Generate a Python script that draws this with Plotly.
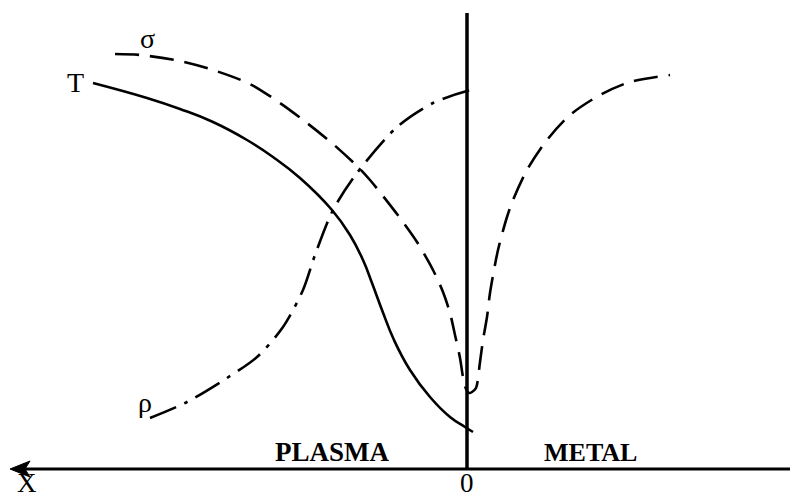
import plotly.graph_objects as go

# Coordinates: x measured from the plasma/metal interface (0), y above the X axis
T_x = [-374, -320, -287, -254, -220, -194, -167, -135, -117, -104, -95, -85, -73, -57, -37, -17, -2, 6]
T_y = [386, 371, 360, 347, 329, 312, 291, 259, 234, 209, 186, 159, 129, 99, 72, 52, 42, 37]

sigma_x = [-352, -327, -287, -257, -217, -187, -160, -134, -109, -97, -84, -67, -50, -34, -24,
           -17, -12, -7, -4, -1, 2, 5, 9, 13, 16, 20, 23, 31, 40, 46, 60, 80, 103, 133, 163, 203]
sigma_y = [415, 414, 408, 400, 385, 366, 346, 325, 302, 289, 273, 251, 227, 199, 177,
           156, 134, 111, 92, 80, 76, 77, 81, 107, 129, 152, 176, 219, 252, 269, 299, 329, 354, 374, 387, 394]

rho_x = [-317, -280, -240, -210, -184, -164, -152, -134, -110, -70, -34, 0, 11]
rho_y = [51, 67, 91, 112, 142, 179, 214, 259, 296, 342, 366, 378, 380]

interface_top = 456
axis_left = -457
axis_right = 323

labels = [
    ("σ", -320, 431, 28, "middle"),
    ("T", -392, 387, 28, "middle"),
    ("ρ", -322, 67, 28, "middle"),
    ("<b>PLASMA</b>", -135, 17, 27, "middle"),
    ("<b>METAL</b>", 123, 17, 26, "middle"),
    ("0", 0, -30, 27, "bottom"),
    ("X", -440, -30, 27, "bottom"),
]

fig = go.Figure()

# X axis line (arrow to the left)
fig.add_trace(go.Scatter(x=[axis_left + 8, axis_right], y=[0, 0], mode="lines",
                         line=dict(color="black", width=3), hoverinfo="skip"))
# interface vertical line
fig.add_trace(go.Scatter(x=[0, 0], y=[0, interface_top], mode="lines",
                         line=dict(color="black", width=3.5), hoverinfo="skip"))

fig.add_trace(go.Scatter(x=T_x, y=T_y, mode="lines", line_shape="spline",
                         line=dict(color="black", width=2.6, smoothing=1.3), name="T"))
fig.add_trace(go.Scatter(x=sigma_x, y=sigma_y, mode="lines", line_shape="spline",
                         line=dict(color="black", width=2.6, dash="24px,11px", smoothing=0.8), name="σ"))
fig.add_trace(go.Scatter(x=rho_x, y=rho_y, mode="lines", line_shape="spline",
                         line=dict(color="black", width=2.6, dash="28px,9px,4px,9px", smoothing=0.8),
                         name="ρ"))

# arrowhead
fig.add_shape(type="path",
              path=f"M {axis_left},0 L {axis_left+20},8 L {axis_left+15},0 L {axis_left+20},-8 Z",
              fillcolor="black", line=dict(color="black", width=1))

for txt, x, y, size, ya in labels:
    fig.add_annotation(x=x, y=y, text=txt, showarrow=False, yanchor=ya, borderpad=0,
                       font=dict(family="Liberation Serif", size=size, color="black"))

fig.update_layout(
    width=790, height=499,
    margin=dict(l=0, r=0, t=0, b=0),
    paper_bgcolor="white", plot_bgcolor="white",
    showlegend=False,
    xaxis=dict(range=[-467, 323], visible=False, fixedrange=True),
    yaxis=dict(range=[-30, 469], visible=False, fixedrange=True),
)

fig.write_html("out.html")
